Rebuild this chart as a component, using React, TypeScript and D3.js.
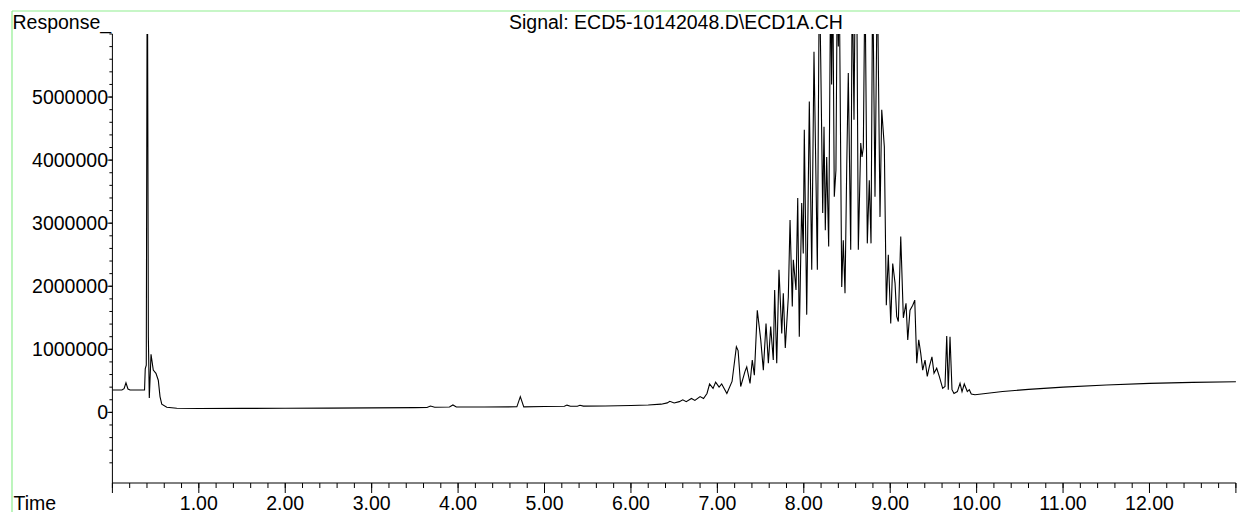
import React from "react";
import * as d3 from "d3";

// ---- data (time in minutes, response in counts) ----
const times = [
  0.0, 0.11, 0.135, 0.157, 0.18, 0.205, 0.372, 0.38, 0.392, 0.404, 0.416, 0.427, 0.447, 0.473, 0.504, 0.531, 0.551, 0.571, 0.629, 0.745,
  1.0, 1.5, 2.0, 2.5, 3.0, 3.5, 3.64, 3.68, 3.73, 3.9, 3.94, 3.98, 4.3, 4.68, 4.72, 4.76, 5.0, 5.23, 5.26, 5.3, 5.38, 5.41, 5.45, 5.7,
  6.0, 6.2, 6.35, 6.42, 6.45, 6.5, 6.56, 6.6, 6.64, 6.7, 6.74, 6.8, 6.84, 6.88, 6.91, 6.95, 6.98, 7.02, 7.05, 7.11, 7.17, 7.22, 7.24,
  7.27, 7.32, 7.34, 7.378, 7.404, 7.428, 7.462, 7.502, 7.532, 7.563, 7.59, 7.617, 7.647, 7.663, 7.687, 7.713, 7.745, 7.763, 7.786,
  7.821, 7.841, 7.867, 7.879, 7.91, 7.93, 7.948, 7.976, 7.994, 8.006, 8.034, 8.064, 8.092, 8.118, 8.142, 8.157, 8.18, 8.196, 8.219,
  8.234, 8.249, 8.265, 8.288, 8.311, 8.322, 8.335, 8.353, 8.372, 8.388, 8.4, 8.41, 8.439, 8.457, 8.477, 8.497, 8.515, 8.543, 8.561,
  8.581, 8.596, 8.604, 8.612, 8.631, 8.659, 8.674, 8.689, 8.708, 8.735, 8.758, 8.778, 8.797, 8.824, 8.851, 8.882, 8.902, 8.932,
  8.955, 8.978, 9.006, 9.029, 9.056, 9.075, 9.094, 9.122, 9.152, 9.183, 9.203, 9.229, 9.261, 9.284, 9.307, 9.33, 9.353, 9.376,
  9.403, 9.429, 9.452, 9.483, 9.507, 9.538, 9.568, 9.607, 9.634, 9.654, 9.672, 9.692, 9.715, 9.738, 9.777, 9.808, 9.831, 9.857,
  9.892, 9.915, 9.938, 9.981, 10.3, 10.6, 11.0, 11.5, 12.0, 12.5, 13.0,
];

const responses = [
  355000, 355000, 375000, 470000, 370000, 355000, 355000, 690000, 750000, 8000000, 1200000, 230000, 920000, 670000, 620000, 510000, 250000, 130000, 80000, 65000,
  62000, 63000, 65000, 68000, 72000, 76000, 78000, 100000, 82000, 85000, 117000, 86000, 86000, 88000, 250000, 88000, 92000, 96000, 115000, 97000, 98000, 112000, 99000, 102000,
  110000, 118000, 130000, 150000, 175000, 150000, 170000, 200000, 170000, 220000, 190000, 250000, 220000, 300000, 450000, 380000, 480000, 400000, 450000, 300000, 490000, 1040000, 980000,
  410000, 650000, 720000, 460000, 830000, 590000, 1620000, 1150000, 670000, 1410000, 780000, 1360000, 830000, 1940000, 780000, 2260000, 1250000, 1890000, 1020000,
  1830000, 3050000, 1680000, 2420000, 1940000, 3400000, 1200000, 3320000, 2520000, 4480000, 1550000, 4930000, 2260000, 5720000, 3630000, 2260000, 7000000, 5590000, 3160000,
  4530000, 2890000, 4050000, 2630000, 7000000, 5200000, 7000000, 3420000, 3840000, 7000000, 5800000, 7000000, 1990000, 2730000, 1890000, 3900000, 5380000, 2580000, 7000000,
  4640000, 7000000, 6200000, 7000000, 2580000, 4270000, 4050000, 4200000, 7000000, 2680000, 3680000, 2680000, 7000000, 3420000, 7000000, 3100000, 4800000, 4210000,
  1700000, 2500000, 1410000, 2360000, 2050000, 1520000, 1440000, 2790000, 1500000, 1730000, 1150000, 1620000, 1700000, 1780000, 780000, 1150000, 940000, 670000,
  830000, 570000, 720000, 880000, 620000, 700000, 570000, 380000, 410000, 1210000, 360000, 1200000, 360000, 300000, 330000, 460000, 330000, 450000,
  330000, 360000, 290000, 280000, 330000, 365000, 400000, 435000, 460000, 475000, 485000,
];

const yLabelValues = [0, 1000000, 2000000, 3000000, 4000000, 5000000];
const xLabelValues = [1, 2, 3, 4, 5, 6, 7, 8, 9, 10, 11, 12];
const title = "Signal: ECD5-10142048.D\\ECD1A.CH";
const yTitle = "Response_";
const xTitle = "Time";

const W = 1240;
const H = 512;
const FONT = "'Liberation Sans', Arial, sans-serif";
const FS = 19.5;

export default function App() {
  const x = d3.scaleLinear().domain([0, 13]).range([112.4, 1235.9]);
  const y = d3.scaleLinear().domain([-1120000, 6000000]).range([483, 34]);

  const pts: [number, number][] = times.map((t, i) => [t, responses[i]]);
  const line = d3
    .line<[number, number]>()
    .x((d) => x(d[0]))
    .y((d) => y(d[1]));

  const xMinor = d3.range(0, 65 + 1).map((i) => i * 0.2);
  const xMajor = d3.range(0, 14);
  const yMinor = d3.range(-4, 31).map((i) => i * 200000);
  const yMajor = d3.range(0, 6).map((i) => i * 1000000);

  const x0 = x(0);
  const yb = y(-1120000);
  const yt = y(6000000);

  return (
    <svg
      width={W}
      height={H}
      style={{ position: "absolute", left: 0, top: 0, background: "#fff" }}
      fontFamily={FONT}
    >
      <defs>
        <clipPath id="plotclip">
          <rect x={x0} y={yt} width={x(13) - x0 + 4} height={yb - yt} />
        </clipPath>
      </defs>
      {/* green frame */}
      <line x1={12} y1={11} x2={W} y2={11} stroke="#90ee90" strokeWidth={1.2} />
      <line x1={12} y1={11} x2={12} y2={H} stroke="#90ee90" strokeWidth={1.2} />

      {/* axes */}
      <line x1={x0} y1={yt} x2={x0} y2={yb} stroke="#000" strokeWidth={1} />
      <line x1={x0} y1={yb} x2={x(13)} y2={yb} stroke="#000" strokeWidth={1} />

      {xMinor.map((t, i) => (
        <line key={"xm" + i} x1={x(t)} x2={x(t)} y1={yb} y2={yb + 5} stroke="#000" strokeWidth={1} />
      ))}
      {xMajor.map((t) => (
        <line key={"xM" + t} x1={x(t)} x2={x(t)} y1={yb} y2={yb + 10} stroke="#000" strokeWidth={1} />
      ))}
      {yMinor.map((v, i) => (
        <line key={"ym" + i} x1={x0 - 3} x2={x0} y1={y(v)} y2={y(v)} stroke="#000" strokeWidth={1} />
      ))}
      {yMajor.map((v) => (
        <line key={"yM" + v} x1={x0 - 5} x2={x0} y1={y(v)} y2={y(v)} stroke="#000" strokeWidth={1} />
      ))}

      {yLabelValues.map((v) => (
        <text key={"yl" + v} x={108} y={y(v)} dy="0.35em" textAnchor="end" fontSize={FS} fill="#000">
          {String(v)}
        </text>
      ))}
      {xLabelValues.map((t) => (
        <text key={"xl" + t} x={x(t)} y={509.5} textAnchor="middle" fontSize={FS} fill="#000">
          {t.toFixed(2)}
        </text>
      ))}

      <text x={12.5} y={28.5} fontSize={FS} fill="#000">{yTitle}</text>
      <text x={13.5} y={509.5} fontSize={FS} fill="#000">{xTitle}</text>
      <text x={509} y={29} fontSize={FS} fill="#000">{title}</text>

      <g clipPath="url(#plotclip)">
        <path d={line(pts) || ""} fill="none" stroke="#000" strokeWidth={1.1} strokeLinejoin="miter" />
      </g>
    </svg>
  );
}
